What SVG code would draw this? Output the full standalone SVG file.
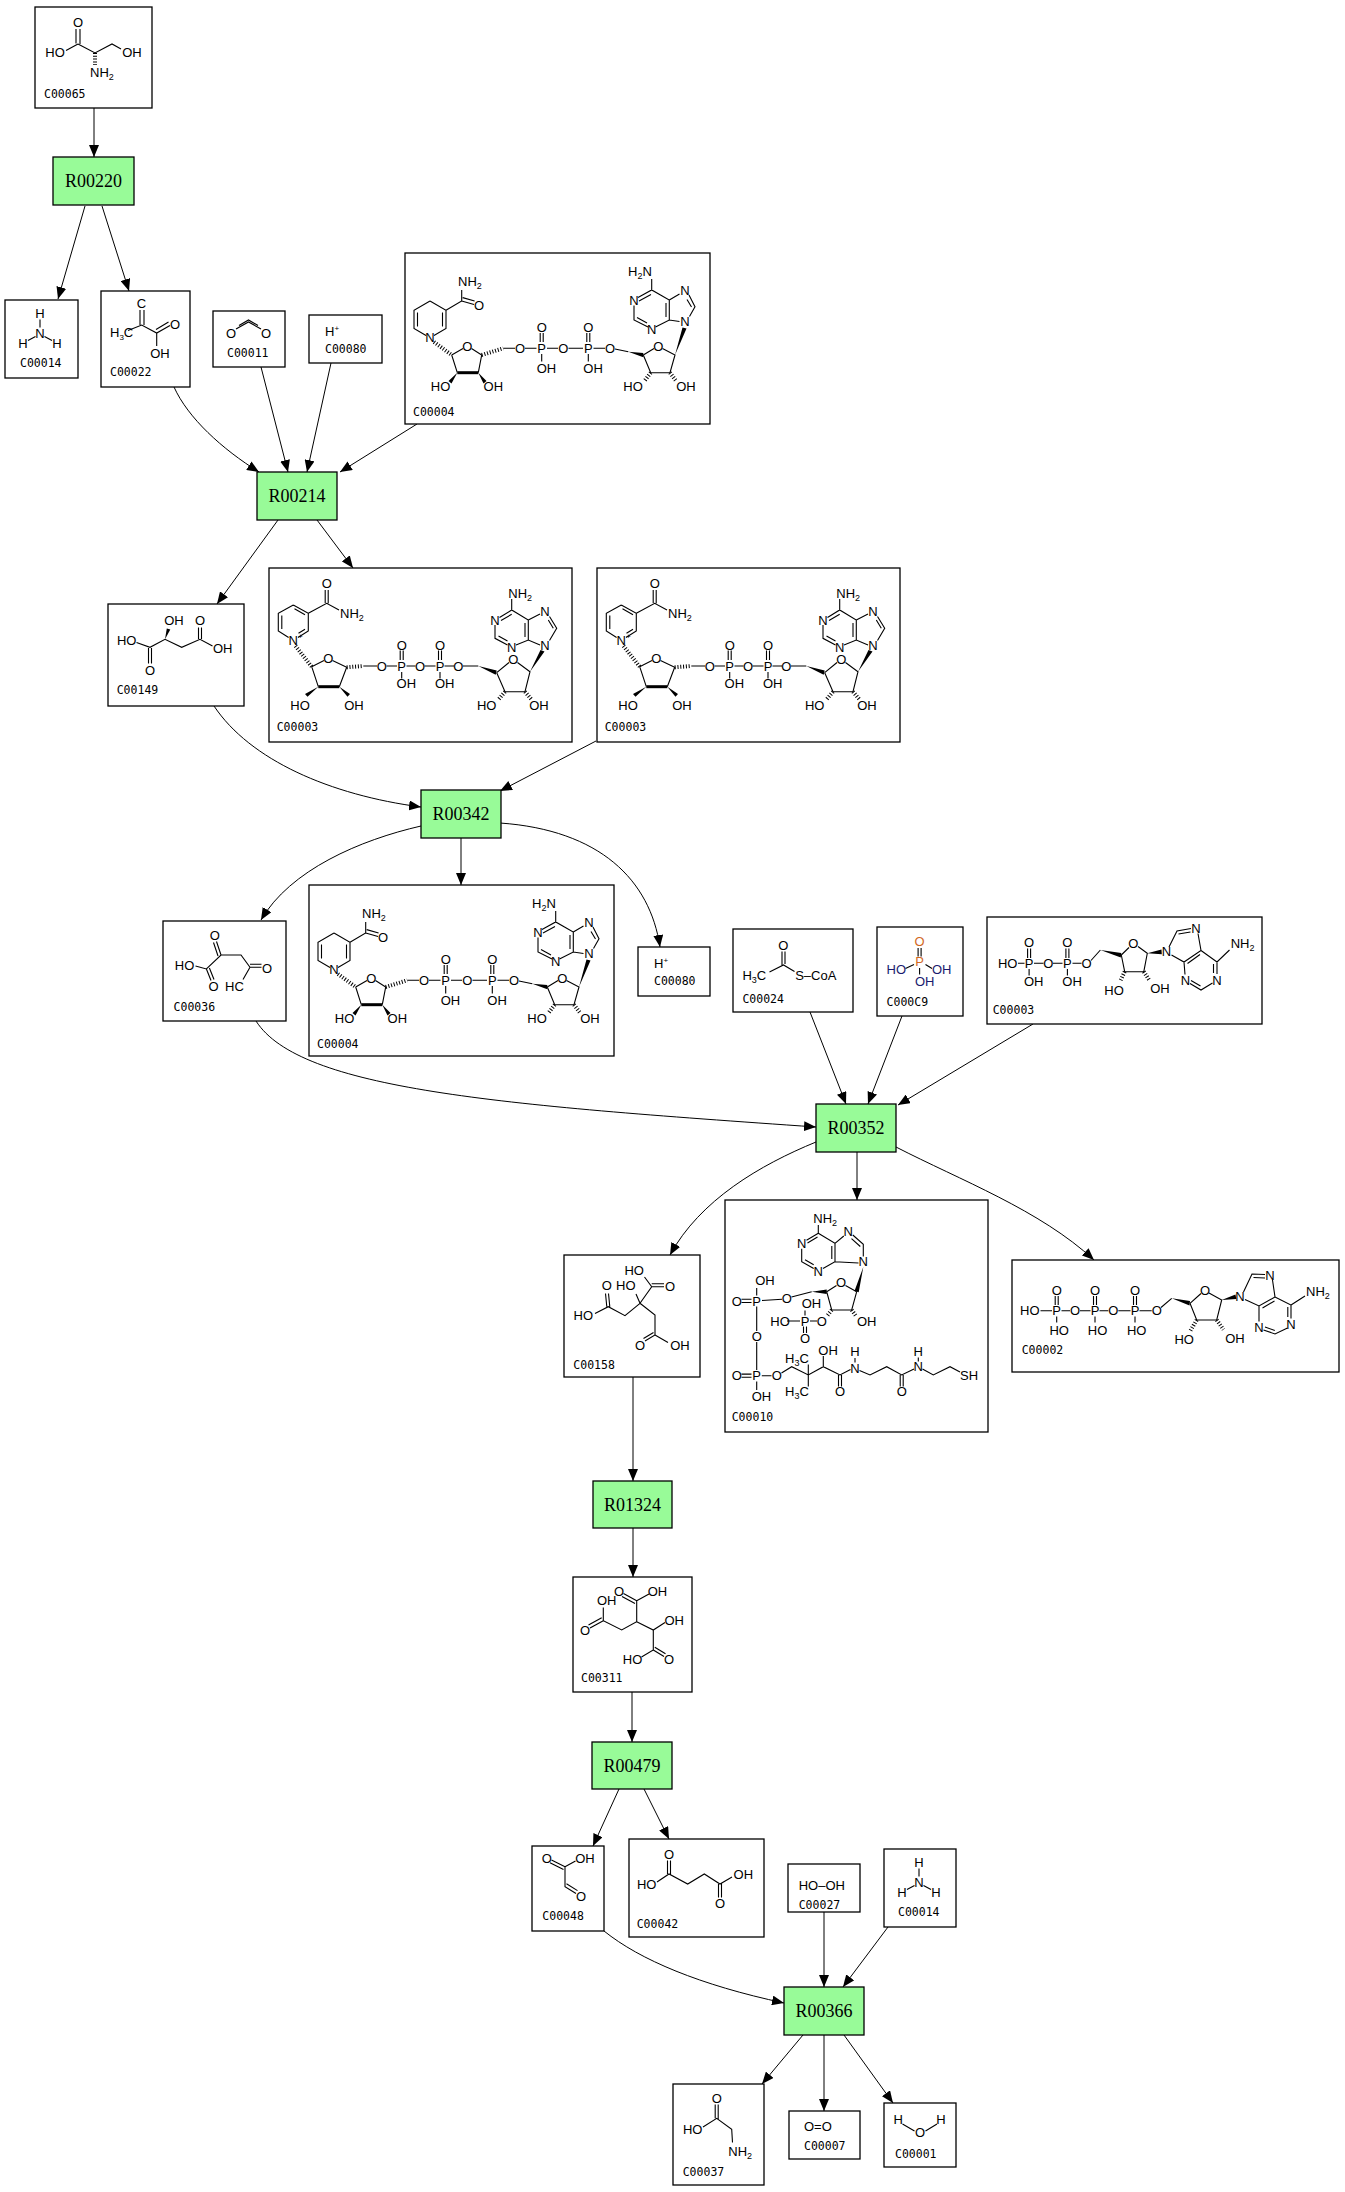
<svg xmlns="http://www.w3.org/2000/svg" xmlns:xlink="http://www.w3.org/1999/xlink" width="1345" height="2192" viewBox="0 0 1345 2192">
<style>
.bx{fill:#fff;stroke:#000;stroke-width:1.3}
.rx{fill:#98fb98;stroke:#000;stroke-width:1.3}
.rt{font-family:"Liberation Serif",serif;font-size:18px;text-anchor:middle;fill:#000}
.id{font-family:"DejaVu Sans Mono",monospace;font-size:11.5px;fill:#000}
.a{font-family:"Liberation Sans",Arial,sans-serif;font-size:13px;fill:#000}
.m{text-anchor:middle}
.sub{font-size:9px}
.b{fill:none;stroke:#000;stroke-width:1.1}
.bb{fill:none;stroke:#000;stroke-width:3}
.hs{fill:none;stroke:#000;stroke-width:4;stroke-dasharray:1 1.8}
.w{fill:#000}
.e{fill:none;stroke:#000;stroke-width:1}
.or{fill:#d2691e}
.nv{fill:#1a1a6e}
</style>
<defs>
<marker id="ah" markerUnits="userSpaceOnUse" markerWidth="12" markerHeight="10" refX="12" refY="5" orient="auto"><path d="M0,0 L12,5 L0,10 Z" fill="#000"/></marker>
<g id="nadh-b">
<path class="b" d="M25,48 L41,57.2 L41,75.5 L29,82.5 M21,82.5 L9,75.5 L9,57.2 L25,48 M12.5,59.5 L12.5,73.5 M37.5,59.5 L37.5,73.5 M41,57.2 L56.7,48 L56.7,37 M56.7,48 L69,51.5 M57.7,44.6 L69.6,48 M46.7,102 L58,95.5 M66.5,95.5 L76.7,102 L73.3,119.7 M52.3,119.7 L46.7,102 M98.3,95.3 L110,95.3 M120,95.3 L131.5,95.3 M142,95.3 L153,95.3 M163.5,95.3 L178,95.3 M188.5,95.3 L200,95.3 M135.2,80 L135.2,89 M138.2,80 L138.2,89 M181.8,80 L181.8,89 M184.8,80 L184.8,89 M136.7,101 L136.7,108.5 M183.3,101 L183.3,108.5 M210,96 L223.3,98.7 M238.3,102 L249,95.5 M257.5,95.5 L270,102 L265,119.7 L245.7,119.7 L238.3,102 M274.5,68.5 L264.3,67 L250.5,74 M243,74 L229,67 L229,52.5 M233,44.5 L246.7,37 L264.3,47 L264.3,67 M264.3,47 L274.5,41 M284,42 L290,53.7 L284.5,63.5 M232,64.5 L242,70 M234,48 L246,41.5 M261,50 L261,64 M282,46.5 L286.5,54 M246.7,37 L246.7,26"/>
<path class="bb" d="M52.3,119.7 L73.3,119.7"/>
<path class="w" d="M52.3,119.7 L43.5,128 L46.5,130.5 Z M73.3,119.7 L78.5,130.5 L81.5,128 Z M223.3,98.7 L238.3,100 L238.3,104.3 Z M270,102 L277.5,74.5 L281.5,75.5 Z"/>
<path class="hs" d="M29,89 L46.7,102 M76.7,102 L98.3,95.3 M245.7,119.7 L239,128.5 M265,119.7 L271.5,128.5"/>
</g>
<g id="nad-b">
<path class="b" d="M24.3,37 L39.3,45.3 L39.3,63 L29,69.5 M19.6,69.5 L9.3,63 L9.3,45.3 L24.3,37 M12.8,47.5 L12.8,61 M25.5,40.8 L36,46.8 M36,61.3 L29.5,65.2 M39.3,45.3 L57.7,35.3 L70,42 M56.2,35 L56.2,22 M59.2,35.3 L59.2,22 M42.7,98.7 L55,92.5 M63.5,92.5 L77.7,99.3 L70.3,118.7 M49.3,118.7 L42.7,98.7 M94.3,98 L108,98 M117.5,98 L128,98 M137.5,98 L146.5,98 M155.5,98 L166.5,98 M175.5,98 L185,98 M131.2,82.5 L131.2,92 M134.2,82.5 L134.2,92 M169.5,82.5 L169.5,92 M172.5,82.5 L172.5,92 M132.7,104 L132.7,110.5 M171,104 L171,110.5 M194,98 L209.3,98 M227.7,104.7 L240,94.5 M248.5,94.5 L261,103.7 L256,123.7 L236,123.7 L227.7,104.7 M271,77 L259.3,72 L247,77 M238.5,77 L226,70.3 L226,57 M230.5,49.5 L242.7,42 L259.3,52 L259.3,72 M259.3,52 L271,46 M280.5,48.5 L287.7,60.3 L280.5,72.5 M229.5,68 L238.5,73 M232,52.5 L242.7,46.3 M256,55 L256,69 M279.3,52 L284.3,60.3 M242.7,42 L242.7,31"/>
<path class="bb" d="M49.3,118.7 L70.3,118.7"/>
<path class="w" d="M49.3,118.7 L36,126 L38.5,128.8 Z M70.3,118.7 L78.5,128.8 L81,126 Z M209.3,98 L227.7,102.4 L226.7,106.8 Z M261,103.7 L271.5,82 L275.5,83.5 Z"/>
<path class="hs" d="M26.5,78 L42.7,98.7 M77.7,99.3 L94.3,98 M236,123.7 L229.5,131.5 M256,123.7 L262.5,131.5"/>
</g>
</defs>
<rect width="1345" height="2192" fill="#fff"/>

<g id="edges">
<path class="e" marker-end="url(#ah)" d="M94,108 L94,157"/>
<path class="e" marker-end="url(#ah)" d="M85,206 L58,299"/>
<path class="e" marker-end="url(#ah)" d="M102,206 L129,291"/>
<path class="e" marker-end="url(#ah)" d="M174,387 C188,418 222,449 259,472"/>
<path class="e" marker-end="url(#ah)" d="M261,367 L288,472"/>
<path class="e" marker-end="url(#ah)" d="M331,363 L307,472"/>
<path class="e" marker-end="url(#ah)" d="M417,424 L340,472"/>
<path class="e" marker-end="url(#ah)" d="M278,520 L217,604"/>
<path class="e" marker-end="url(#ah)" d="M317,520 L353,568"/>
<path class="e" marker-end="url(#ah)" d="M214,706 C250,760 330,795 421,807"/>
<path class="e" marker-end="url(#ah)" d="M596,741 L500,791"/>
<path class="e" marker-end="url(#ah)" d="M421,826 C360,840 290,870 261,920"/>
<path class="e" marker-end="url(#ah)" d="M461,838 L461,885"/>
<path class="e" marker-end="url(#ah)" d="M500,823 C600,830 650,880 660,947"/>
<path class="e" marker-end="url(#ah)" d="M256,1021 C300,1090 500,1105 816,1127"/>
<path class="e" marker-end="url(#ah)" d="M810,1012 L846,1104"/>
<path class="e" marker-end="url(#ah)" d="M902,1016 L868,1104"/>
<path class="e" marker-end="url(#ah)" d="M1033,1024 L898,1105"/>
<path class="e" marker-end="url(#ah)" d="M816,1142 C760,1165 700,1200 670,1255"/>
<path class="e" marker-end="url(#ah)" d="M857,1152 L857,1200"/>
<path class="e" marker-end="url(#ah)" d="M896,1147 C960,1180 1040,1210 1094,1260"/>
<path class="e" marker-end="url(#ah)" d="M633,1377 L633,1481"/>
<path class="e" marker-end="url(#ah)" d="M633,1528 L633,1577"/>
<path class="e" marker-end="url(#ah)" d="M632,1692 L632,1742"/>
<path class="e" marker-end="url(#ah)" d="M619,1789 L593,1846"/>
<path class="e" marker-end="url(#ah)" d="M644,1789 L669,1839"/>
<path class="e" marker-end="url(#ah)" d="M604,1931 C640,1960 700,1985 784,2003"/>
<path class="e" marker-end="url(#ah)" d="M824,1912 L824,1987"/>
<path class="e" marker-end="url(#ah)" d="M888,1927 L843,1987"/>
<path class="e" marker-end="url(#ah)" d="M803,2035 L762,2084"/>
<path class="e" marker-end="url(#ah)" d="M824,2035 L824,2111"/>
<path class="e" marker-end="url(#ah)" d="M844,2035 L893,2103"/>
</g>

<g id="C00065" transform="translate(35,7)">
<rect class="bx" width="117" height="101"/>
<path class="b" d="M41,22 L41,36.5 M45,22 L45,37 M43,37 L31,43.5 M43,37 L60,46 L77,37 L86,42"/>
<path class="hs" d="M60,46 L60,58"/>
<text class="a m" x="43" y="19.7">O</text>
<text class="a m" x="20" y="49.7">HO</text>
<text class="a m" x="97" y="49.7">OH</text>
<text class="a" x="55" y="70.4">NH<tspan class="sub" dy="3">2</tspan></text>
<text class="id" x="9" y="91">C00065</text>
</g>

<g id="R00220" transform="translate(53,157)"><rect class="rx" width="81" height="48"/><text class="rt" x="40.5" y="30">R00220</text></g>

<g id="C00014a" transform="translate(5,300)">
<rect class="bx" width="73" height="78"/>
<path class="b" d="M35,19.5 L35,27.5 M30.5,36.5 L23,40.5 M39.5,36.5 L47,40.5"/>
<text class="a m" x="35" y="17.7">H</text>
<text class="a m" x="35" y="37.7">N</text>
<text class="a m" x="18" y="47.7">H</text>
<text class="a m" x="52" y="47.7">H</text>
<text class="id" x="15" y="67">C00014</text>
</g>

<g id="C00022" transform="translate(101,291)">
<rect class="bx" width="89" height="96"/>
<path class="b" d="M39,19 L39,34 M43,19 L43,34 M27,39.5 L40.7,34 L55.7,42 L69,34.5 M55,38.5 L67.5,31 M55.7,42 L55.7,55"/>
<text class="a m" x="40.5" y="17" font-size="12">C</text>
<text class="a" x="9" y="46" font-size="12">H<tspan font-size="8" dy="3">3</tspan><tspan dy="-3">C</tspan></text>
<text class="a m" x="74" y="37.5" font-size="12">O</text>
<text class="a m" x="59" y="66.5" font-size="12">OH</text>
<text class="id" x="9" y="85">C00022</text>
</g>

<g id="C00011" transform="translate(213,311)">
<rect class="bx" width="72" height="56"/>
<path class="b" d="M23,18 L35.5,11 L48,18 M26,14.5 L35.5,9 L45,14.5"/>
<text class="a m" x="18" y="26.7">O</text>
<text class="a m" x="53" y="26.7">O</text>
<text class="id" x="14" y="46">C00011</text>
</g>

<g id="C00080a" transform="translate(309,315)">
<rect class="bx" width="73" height="48"/>
<text class="a" x="16" y="21">H<tspan font-size="8" dy="-5">+</tspan></text>
<text class="id" x="16" y="38">C00080</text>
</g>

<g id="C00004a" transform="translate(405,253)">
<rect class="bx" width="305" height="171"/>
<use xlink:href="#nadh-b"/>
<text class="a" x="53" y="33.4">NH<tspan class="sub" dy="3">2</tspan></text>
<text class="a m" x="74" y="56.7">O</text>
<text class="a m" x="25" y="89.4">N</text>
<text class="a m" x="62.3" y="97.7">O</text>
<text class="a m" x="35.5" y="138.4">HO</text>
<text class="a m" x="88.3" y="138.4">OH</text>
<text class="a m" x="115" y="100">O</text>
<text class="a m" x="136.7" y="100">P</text>
<text class="a m" x="158.3" y="100">O</text>
<text class="a m" x="183.3" y="100">P</text>
<text class="a m" x="205" y="100">O</text>
<text class="a m" x="136.7" y="79">O</text>
<text class="a m" x="183.3" y="79">O</text>
<text class="a" x="131.7" y="120">OH</text>
<text class="a" x="178.3" y="120">OH</text>
<text class="a m" x="253.3" y="97.7">O</text>
<text class="a m" x="228" y="138.4">HO</text>
<text class="a m" x="281" y="138.4">OH</text>
<text class="a m" x="280" y="73.4">N</text>
<text class="a m" x="246.7" y="81">N</text>
<text class="a m" x="229" y="51.7">N</text>
<text class="a m" x="280" y="41.7">N</text>
<text class="a" x="223" y="23.4">H<tspan class="sub" dy="3">2</tspan><tspan dy="-3">N</tspan></text>
<text class="id" x="8" y="162.7">C00004</text>
</g>

<g id="R00214" transform="translate(257,472)"><rect class="rx" width="80" height="48"/><text class="rt" x="40" y="30">R00214</text></g>

<g id="C00149" transform="translate(108,604)">
<rect class="bx" width="136" height="102"/>
<path class="b" d="M28.5,38.5 L42,43.3 L57,35.3 L73.7,43.3 L92,35.3 L104.5,42 M40.5,44 L40.5,59.5 M43.5,44 L43.5,59.5 M90.5,35 L90.5,23.5 M93.5,35 L93.5,23.5"/>
<path class="w" d="M57,35.3 L58.8,24.5 L62.3,25.5 Z"/>
<text class="a m" x="18.7" y="40.7">HO</text>
<text class="a m" x="42" y="70.7">O</text>
<text class="a m" x="66" y="20.7">OH</text>
<text class="a m" x="92" y="21.4">O</text>
<text class="a" x="105" y="49">OH</text>
<text class="id" x="8.7" y="90">C00149</text>
</g>

<g id="C00003a" transform="translate(269,568)">
<rect class="bx" width="303" height="174"/>
<use xlink:href="#nad-b"/>
<text class="a m" x="57.7" y="20">O</text>
<text class="a" x="71" y="50">NH<tspan class="sub" dy="3">2</tspan></text>
<text class="a" x="19.6" y="76.7">N<tspan font-size="8" dy="-6">+</tspan></text>
<text class="a m" x="59.3" y="95">O</text>
<text class="a m" x="31" y="142.4">HO</text>
<text class="a m" x="85" y="142.4">OH</text>
<text class="a m" x="112.7" y="102.7">O</text>
<text class="a m" x="132.7" y="102.7">P</text>
<text class="a m" x="151" y="102.7">O</text>
<text class="a m" x="171" y="102.7">P</text>
<text class="a m" x="189.3" y="102.7">O</text>
<text class="a m" x="132.7" y="81.7">O</text>
<text class="a m" x="171" y="81.7">O</text>
<text class="a" x="127.6" y="120">OH</text>
<text class="a" x="166" y="120">OH</text>
<text class="a m" x="244.3" y="96">O</text>
<text class="a m" x="217.7" y="142.4">HO</text>
<text class="a m" x="270" y="142.4">OH</text>
<text class="a m" x="276" y="81.7">N</text>
<text class="a m" x="242.7" y="84">N</text>
<text class="a m" x="226" y="56.7">N</text>
<text class="a m" x="276" y="48.4">N</text>
<text class="a" x="239.3" y="30">NH<tspan class="sub" dy="3">2</tspan></text>
<text class="id" x="7.7" y="162.7">C00003</text>
</g>

<g id="C00003b" transform="translate(597,568)">
<rect class="bx" width="303" height="174"/>
<use xlink:href="#nad-b"/>
<text class="a m" x="57.7" y="20">O</text>
<text class="a" x="71" y="50">NH<tspan class="sub" dy="3">2</tspan></text>
<text class="a" x="19.6" y="76.7">N<tspan font-size="8" dy="-6">+</tspan></text>
<text class="a m" x="59.3" y="95">O</text>
<text class="a m" x="31" y="142.4">HO</text>
<text class="a m" x="85" y="142.4">OH</text>
<text class="a m" x="112.7" y="102.7">O</text>
<text class="a m" x="132.7" y="102.7">P</text>
<text class="a m" x="151" y="102.7">O</text>
<text class="a m" x="171" y="102.7">P</text>
<text class="a m" x="189.3" y="102.7">O</text>
<text class="a m" x="132.7" y="81.7">O</text>
<text class="a m" x="171" y="81.7">O</text>
<text class="a" x="127.6" y="120">OH</text>
<text class="a" x="166" y="120">OH</text>
<text class="a m" x="244.3" y="96">O</text>
<text class="a m" x="217.7" y="142.4">HO</text>
<text class="a m" x="270" y="142.4">OH</text>
<text class="a m" x="276" y="81.7">N</text>
<text class="a m" x="242.7" y="84">N</text>
<text class="a m" x="226" y="56.7">N</text>
<text class="a m" x="276" y="48.4">N</text>
<text class="a" x="239.3" y="30">NH<tspan class="sub" dy="3">2</tspan></text>
<text class="id" x="7.7" y="162.7">C00003</text>
</g>

<g id="R00342" transform="translate(421,790)"><rect class="rx" width="80" height="48"/><text class="rt" x="40" y="30">R00342</text></g>

<g id="C00036" transform="translate(163,921)">
<rect class="bx" width="123" height="100"/>
<path class="b" d="M58,34 L53.5,20.5 M55,35 L50.5,21.5 M32.5,45 L43.4,48 L58,34 L78,34 L87,46.3 L98.5,46.3 M87,43.3 L98.5,43.3 M87,46.3 L80,58.5 M43.4,48 L48,59.5 M46.4,47 L51,58.5"/>
<text class="a m" x="51.7" y="18.7">O</text>
<text class="a m" x="21.5" y="48.7">HO</text>
<text class="a m" x="50.6" y="69.7">O</text>
<text class="a m" x="104" y="52">O</text>
<text class="a m" x="71.5" y="70.4">HC</text>
<text class="id" x="10.6" y="90">C00036</text>
</g>

<g id="C00004b" transform="translate(309,885)">
<rect class="bx" width="305" height="171"/>
<use xlink:href="#nadh-b"/>
<text class="a" x="53" y="33.4">NH<tspan class="sub" dy="3">2</tspan></text>
<text class="a m" x="74" y="56.7">O</text>
<text class="a m" x="25" y="89.4">N</text>
<text class="a m" x="62.3" y="97.7">O</text>
<text class="a m" x="35.5" y="138.4">HO</text>
<text class="a m" x="88.3" y="138.4">OH</text>
<text class="a m" x="115" y="100">O</text>
<text class="a m" x="136.7" y="100">P</text>
<text class="a m" x="158.3" y="100">O</text>
<text class="a m" x="183.3" y="100">P</text>
<text class="a m" x="205" y="100">O</text>
<text class="a m" x="136.7" y="79">O</text>
<text class="a m" x="183.3" y="79">O</text>
<text class="a" x="131.7" y="120">OH</text>
<text class="a" x="178.3" y="120">OH</text>
<text class="a m" x="253.3" y="97.7">O</text>
<text class="a m" x="228" y="138.4">HO</text>
<text class="a m" x="281" y="138.4">OH</text>
<text class="a m" x="280" y="73.4">N</text>
<text class="a m" x="246.7" y="81">N</text>
<text class="a m" x="229" y="51.7">N</text>
<text class="a m" x="280" y="41.7">N</text>
<text class="a" x="223" y="23.4">H<tspan class="sub" dy="3">2</tspan><tspan dy="-3">N</tspan></text>
<text class="id" x="8" y="162.7">C00004</text>
</g>

<g id="C00080b" transform="translate(638,947)">
<rect class="bx" width="72" height="49"/>
<text class="a" x="16" y="21">H<tspan font-size="8" dy="-5">+</tspan></text>
<text class="id" x="16" y="38">C00080</text>
</g>

<g id="C00024" transform="translate(733,929)">
<rect class="bx" width="120" height="83"/>
<path class="b" d="M49,22.5 L49,36.5 M52,22.5 L52,35 M36.5,43 L50.5,36 L61.5,42.5"/>
<text class="a m" x="50.4" y="20.7">O</text>
<text class="a" x="9.4" y="50.7">H<tspan class="sub" dy="3">3</tspan><tspan dy="-3">C</tspan></text>
<text class="a" x="62.2" y="50.7">S–CoA</text>
<text class="id" x="9.4" y="73.5">C00024</text>
</g>

<g id="C00009" transform="translate(877,927)">
<rect class="bx" width="86" height="89"/>
<path class="b" d="M41.1,21 L41.1,29.5 M44.1,21 L44.1,29.5 M28.5,41.5 L37,37.5 M48.5,37.5 L55,41.5 M42.6,41 L42.6,47.5"/>
<text class="a m or" x="42.6" y="19.4">O</text>
<text class="a m or" x="42.6" y="39.4">P</text>
<text class="a nv" x="9.6" y="47">HO</text>
<text class="a nv" x="55" y="47">OH</text>
<text class="a nv" x="38" y="59.4">OH</text>
<text class="id" x="9.6" y="79">C000C9</text>
</g>

<g id="C00008" transform="translate(987,917)">
<rect class="bx" width="275" height="107"/>
<path class="b" d="M31,46.3 L37.5,46.3 M47,46.3 L56.5,46.3 M66,46.3 L75.5,46.3 M85.5,46.3 L94.5,46.3 M104,43.5 L113.4,33 M40.6,31.5 L40.6,41 M43.6,31.5 L43.6,41 M78.9,31.5 L78.9,41 M81.9,31.5 L81.9,41 M42.1,52 L42.1,58.5 M80.4,52 L80.4,58.5 M134.3,38 L142,30.5 M151,29.5 L160.3,36.3 L156.8,54.7 L137.7,54.7 L134.3,38 M182,30 L190,14 L204,11.5 M191.5,17 L203.5,15 M211,16.5 L214,33.5 L197,45 L184.5,38 M213,37.5 L200.5,46.5 M214,33.5 L230,45 L242.5,33 M230,45 L230,57 M226.5,47 L226.5,56 M225.5,66 L214,73 L203,66.5 M213.5,69 L204,63.5 M198,57.5 L197,45"/>
<path class="w" d="M113.4,33 L134.3,36 L133.8,40.5 Z M160.3,36.3 L174.5,32.5 L174.8,37.2 Z"/>
<path class="hs" d="M137.7,54.7 L133,64.5 M156.8,54.7 L162.5,63.5"/>
<text class="a" x="10.9" y="51">HO</text>
<text class="a m" x="42.1" y="51">P</text>
<text class="a m" x="42.1" y="30">O</text>
<text class="a" x="37" y="69.4">OH</text>
<text class="a m" x="61.2" y="51">O</text>
<text class="a m" x="80.4" y="51">P</text>
<text class="a m" x="80.4" y="30">O</text>
<text class="a" x="75.3" y="69.4">OH</text>
<text class="a m" x="99.5" y="51">O</text>
<text class="a m" x="146.4" y="31">O</text>
<text class="a m" x="127" y="77.7">HO</text>
<text class="a m" x="173" y="76">OH</text>
<text class="a m" x="179.4" y="39.4">N</text>
<text class="a m" x="209" y="16">N</text>
<text class="a" x="243.7" y="31">NH<tspan class="sub" dy="3">2</tspan></text>
<text class="a m" x="230" y="67.7">N</text>
<text class="a m" x="198.5" y="67.7">N</text>
<text class="id" x="5.7" y="97">C00003</text>
</g>

<g id="R00352" transform="translate(816,1104)"><rect class="rx" width="80" height="48"/><text class="rt" x="40" y="30">R00352</text></g>

<g id="C00158" transform="translate(564,1255)">
<rect class="bx" width="136" height="122"/>
<path class="b" d="M76,48.3 L87.7,31.7 L80.5,22 M87.7,31.7 L100,31.7 M87.7,28.7 L100,28.7 M76,48.3 L72,39 M76,48.3 L61,60.7 L44.3,51.7 L31,58.5 M42.8,51.7 L41.5,38.5 M45.8,51.7 L44.5,38.5 M76,48.3 L91,60 L91,80 L81,86 M89.5,77.5 L79.5,83.5 M91,80 L104,87.5"/>
<text class="a m" x="70.2" y="19.7">HO</text>
<text class="a m" x="42.7" y="34.7">O</text>
<text class="a m" x="61.8" y="35.4">HO</text>
<text class="a m" x="106" y="36.4">O</text>
<text class="a m" x="19.3" y="64.7">HO</text>
<text class="a m" x="76" y="94.7">O</text>
<text class="a m" x="116" y="94.7">OH</text>
<text class="id" x="9.3" y="113.5">C00158</text>
</g>

<g id="C00010" transform="translate(725,1200)">
<rect class="bx" width="263" height="232"/>
<path class="b" d="M93.3,33.3 L93.3,25 M93.3,33.3 L81.5,40.3 M92.5,37 L82.5,43 M76.7,48.8 L76.7,61.7 L88.7,68.5 M80,59.8 L88.7,64.7 M98,68.5 L110,61.7 L110,43.3 L93.3,33.3 M106.8,46 L106.8,59 M110,43.3 L118.8,36 M127.8,35 L138.3,44.3 L138.3,56.5 M126.5,38.7 L135.3,46.5 M133.5,63 L110,61.7 M131.7,91.7 L120.5,85.5 M111.5,85.5 L101.7,91.7 L106.7,110 L126.7,110 L131.7,91.7 M86.7,91.7 L66.5,97 M57,99.3 L37,100.5 M16.5,99.3 L26.5,99.3 M16.5,102.5 L26.5,102.5 M31.7,95.5 L31.7,88 M31.7,106.5 L31.7,131 M31.7,142 L31.7,170 M16.5,174.1 L26.5,174.1 M16.5,177.3 L26.5,177.3 M36.8,175.7 L46.5,175.7 M31.7,181.5 L31.7,190 M62,121 L75,121 M85,121 L92,121 M80,115.5 L80,110.5 M78.5,126.5 L78.5,133 M81.5,126.5 L81.5,133 M56.5,173 L66.7,166.7 L83.3,175 L98.3,166.7 L115,175 L125.5,169.5 M83.3,175 L83.3,164.5 M83.3,175 L83.3,186.5 M98.3,166.7 L98.3,156 M113.5,175 L113.5,186.5 M116.5,175 L116.5,186.5 M130,158 L130,162.5 M134.5,170.5 L145,175 L161.7,166.7 L176.7,175 L189,169 M175.2,175 L175.2,186.5 M178.2,175 L178.2,186.5 M193.3,157.5 L193.3,161.5 M197.5,169 L208.3,175 L225,166.7 L235,172"/>
<path class="w" d="M138.3,67 L129.5,91 L133.7,92.3 Z M86.7,91.7 L101.7,89.5 L101.7,94 Z"/>
<path class="hs" d="M126.7,110 L131,116 M106.7,110 L102,116"/>
<text class="a" x="88.3" y="23">NH<tspan class="sub" dy="3">2</tspan></text>
<text class="a m" x="76.7" y="48">N</text>
<text class="a m" x="93.3" y="75.7">N</text>
<text class="a m" x="123.3" y="36.4">N</text>
<text class="a m" x="138.3" y="66.4">N</text>
<text class="a m" x="116" y="87">O</text>
<text class="a m" x="141.7" y="125.7">OH</text>
<text class="a m" x="96.7" y="125.7">O</text>
<text class="a m" x="61.7" y="103">O</text>
<text class="a m" x="11.7" y="105.7">O</text>
<text class="a m" x="31.7" y="105.7">P</text>
<text class="a m" x="40" y="84.7">OH</text>
<text class="a m" x="55" y="125.7">HO</text>
<text class="a m" x="80" y="125.7">P</text>
<text class="a" x="76.7" y="108">OH</text>
<text class="a m" x="80" y="143">O</text>
<text class="a m" x="31.7" y="141.4">O</text>
<text class="a m" x="11.7" y="180.4">O</text>
<text class="a m" x="31.7" y="180.4">P</text>
<text class="a m" x="51.7" y="180.4">O</text>
<text class="a" x="26.7" y="201.4">OH</text>
<text class="a" x="60" y="163">H<tspan class="sub" dy="3">3</tspan><tspan dy="-3">C</tspan></text>
<text class="a" x="60" y="196.4">H<tspan class="sub" dy="3">3</tspan><tspan dy="-3">C</tspan></text>
<text class="a" x="93.3" y="154.7">OH</text>
<text class="a m" x="115" y="196.4">O</text>
<text class="a m" x="130" y="156.4">H</text>
<text class="a m" x="130" y="173">N</text>
<text class="a m" x="176.7" y="196.4">O</text>
<text class="a m" x="193.3" y="156.4">H</text>
<text class="a m" x="193.3" y="171.4">N</text>
<text class="a" x="235" y="179.7">SH</text>
<text class="id" x="6.7" y="221">C00010</text>
</g>

<g id="C00002" transform="translate(1012,1260)">
<rect class="bx" width="327" height="112"/>
<path class="b" d="M28.5,50.7 L40,50.7 M49.5,50.7 L58,50.7 M68,50.7 L78.5,50.7 M87.5,50.7 L96.3,50.7 M106.3,50.7 L118.5,50.7 M127.5,50.7 L139.7,50.7 M149,47.5 L159.7,38.3 M43.2,36 L43.2,45 M46.2,36 L46.2,45 M81.5,36 L81.5,45 M84.5,36 L84.5,45 M121.5,36 L121.5,45 M124.5,36 L124.5,45 M44.7,56.5 L44.7,62.5 M83,56.5 L83,62.5 M123,56.5 L123,62.5 M178,43.3 L189,33.5 M197,33 L209.7,40 L204.7,60 L184.7,60 L178,43.3 M231.5,32 L240,14 L253,14.5 M241.5,17.5 L253,18 M260.5,20 L263,37 L247,46 L233,39.5 M263,37 L279,45 L279,58.5 M275.5,68 L263,74 L251.5,70 M247,61.5 L247,46 M279,45 L293,36 M262.5,41 L250.5,48 M275.8,47 L275.8,57 M262.8,70.5 L253,67"/>
<path class="w" d="M159.7,38.3 L178,41 L177.5,45.6 Z M209.7,40 L223.5,34.5 L224.3,39 Z"/>
<path class="hs" d="M184.7,60 L178.5,70.5 M204.7,60 L211.5,69.5"/>
<text class="a" x="8" y="55.4">HO</text>
<text class="a m" x="44.7" y="55.4">P</text>
<text class="a m" x="63" y="55.4">O</text>
<text class="a m" x="83" y="55.4">P</text>
<text class="a m" x="101.3" y="55.4">O</text>
<text class="a m" x="123" y="55.4">P</text>
<text class="a m" x="144.7" y="55.4">O</text>
<text class="a m" x="44.7" y="34.7">O</text>
<text class="a m" x="83" y="34.7">O</text>
<text class="a m" x="123" y="34.7">O</text>
<text class="a m" x="47.2" y="74.7">HO</text>
<text class="a m" x="85.5" y="74.7">HO</text>
<text class="a m" x="124.7" y="74.7">HO</text>
<text class="a m" x="193" y="34.7">O</text>
<text class="a m" x="172.2" y="84">HO</text>
<text class="a m" x="223" y="83">OH</text>
<text class="a m" x="228" y="41.4">N</text>
<text class="a m" x="258" y="19.7">N</text>
<text class="a m" x="279" y="68.7">N</text>
<text class="a m" x="247" y="71.7">N</text>
<text class="a" x="294" y="36.4">NH<tspan class="sub" dy="3">2</tspan></text>
<text class="id" x="9.7" y="94">C00002</text>
</g>

<g id="R01324" transform="translate(593,1481)"><rect class="rx" width="79" height="47"/><text class="rt" x="39.5" y="29.5">R01324</text></g>

<g id="C00311" transform="translate(573,1577)">
<rect class="bx" width="119" height="115"/>
<path class="b" d="M63.7,23.7 L50.5,16.5 M62,26.5 L49,19.5 M63.7,23.7 L76,17 M63.7,23.7 L63.7,44.7 L48.7,53 L30.3,43.7 L30.3,30.5 M30.3,43.7 L17,51 M28.7,40.8 L15.5,48 M63.7,44.7 L80.3,53 L92,45.5 M80.3,53 L80.3,73 L68.5,80 M80.3,73 L91,79.5 M81.8,70.3 L92.5,76.8"/>
<text class="a m" x="33.7" y="28.4">OH</text>
<text class="a m" x="46" y="19.4">O</text>
<text class="a m" x="84.5" y="19.4">OH</text>
<text class="a m" x="12" y="57.7">O</text>
<text class="a m" x="101.2" y="48.4">OH</text>
<text class="a m" x="59.5" y="87">HO</text>
<text class="a m" x="96" y="87">O</text>
<text class="id" x="8" y="105">C00311</text>
</g>

<g id="R00479" transform="translate(592,1742)"><rect class="rx" width="80" height="47"/><text class="rt" x="40" y="29.5">R00479</text></g>

<g id="C00048" transform="translate(532,1846)">
<rect class="bx" width="72" height="85"/>
<path class="b" d="M33,20.7 L19.5,14 M31.5,23.5 L18,16.7 M33,20.7 L43.5,15 M33,20.7 L33,40.7 L44,47.5 M34.5,37.8 L45.5,44.6"/>
<text class="a m" x="14.7" y="17">O</text>
<text class="a m" x="53" y="17">OH</text>
<text class="a m" x="49" y="55.4">O</text>
<text class="id" x="10.3" y="74">C00048</text>
</g>

<g id="C00042" transform="translate(629,1839)">
<rect class="bx" width="135" height="98"/>
<path class="b" d="M28,43 L40,35 L58.7,45 L75.3,35 L91,45 L103,38 M38.5,35 L38.5,21.5 M41.5,35.8 L41.5,21.5 M89.5,45 L89.5,58.5 M92.5,44.2 L92.5,58.5"/>
<text class="a m" x="40" y="19.7">O</text>
<text class="a m" x="17.7" y="49.7">HO</text>
<text class="a m" x="91" y="69">O</text>
<text class="a m" x="114.3" y="39.7">OH</text>
<text class="id" x="7.7" y="89">C00042</text>
</g>

<g id="C00027" transform="translate(788,1864)">
<rect class="bx" width="72" height="48"/>
<text class="a" x="10.7" y="26">HO–OH</text>
<text class="id" x="10.7" y="44.5">C00027</text>
</g>

<g id="C00014b" transform="translate(884,1849)">
<rect class="bx" width="72" height="78"/>
<path class="b" d="M35,19.5 L35,27.5 M30.5,36.5 L23,40.5 M39.5,36.5 L47,40.5"/>
<text class="a m" x="35" y="17.7">H</text>
<text class="a m" x="35" y="37.7">N</text>
<text class="a m" x="18" y="47.7">H</text>
<text class="a m" x="52" y="47.7">H</text>
<text class="id" x="14" y="67">C00014</text>
</g>

<g id="R00366" transform="translate(784,1987)"><rect class="rx" width="80" height="48"/><text class="rt" x="40" y="30">R00366</text></g>

<g id="C00037" transform="translate(673,2084)">
<rect class="bx" width="91" height="101"/>
<path class="b" d="M30,43 L43.7,34.3 L58.7,45.3 L59.5,58.5 M42.2,34.3 L42.2,20.5 M45.2,35 L45.2,20.5"/>
<text class="a m" x="43.7" y="19">O</text>
<text class="a m" x="19.7" y="50">HO</text>
<text class="a" x="55.3" y="72.4">NH<tspan class="sub" dy="3">2</tspan></text>
<text class="id" x="9.7" y="92">C00037</text>
</g>

<g id="C00007" transform="translate(789,2111)">
<rect class="bx" width="71" height="48"/>
<text class="a" x="15" y="19.5">O=O</text>
<text class="id" x="15" y="38.5">C00007</text>
</g>

<g id="C00001" transform="translate(884,2103)">
<rect class="bx" width="72" height="64"/>
<path class="b" d="M18.5,21 L30.5,28 M41.5,28 L53,21"/>
<text class="a m" x="14.3" y="21">H</text>
<text class="a m" x="36" y="34.4">O</text>
<text class="a m" x="57" y="21">H</text>
<text class="id" x="11" y="54.5">C00001</text>
</g>
</svg>
